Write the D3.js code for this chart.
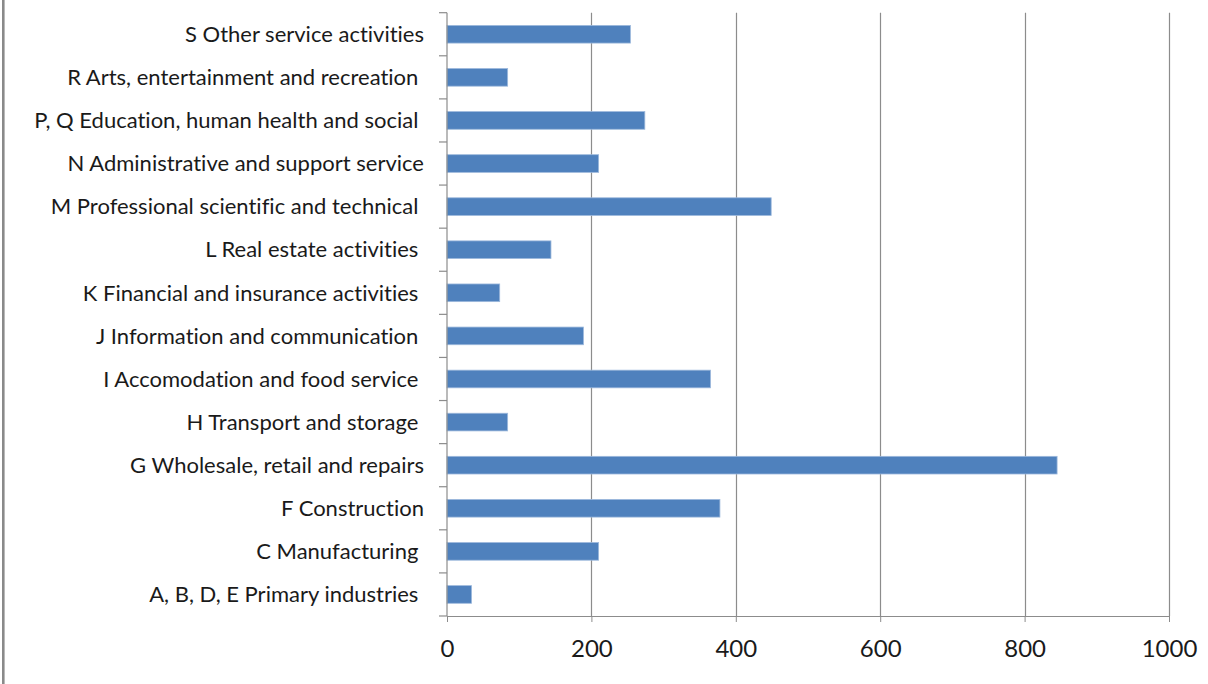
<!DOCTYPE html>
<html>
<head>
<meta charset="utf-8">
<script src="https://cdn.jsdelivr.net/npm/d3@7"></script>
<style>
  html, body { margin: 0; padding: 0; background: #fff; }
  svg { display: block; }
  text { font-family: Lato, "Open Sans", sans-serif; fill: #1a1a1a; font-variant-ligatures: none; }
</style>
</head>
<body>
<svg id="chart" width="1208" height="684"></svg>
<script>
// Categories (top to bottom as drawn)
const categories = [
  "S Other service activities",
  "R Arts, entertainment and recreation ",
  "P, Q Education, human health and social ",
  "N Administrative and support service",
  "M Professional scientific and technical ",
  "L Real estate activities ",
  "K Financial and insurance activities ",
  "J Information and communication ",
  "I Accomodation and food service ",
  "H Transport and storage ",
  "G Wholesale, retail and repairs",
  "F Construction",
  "C Manufacturing ",
  "A, B, D, E Primary industries "
];
const values = [254, 84, 274, 210, 449, 144, 73, 189, 365, 84, 845, 378, 210, 34];
const xTicks = [0, 200, 400, 600, 800, 1000];

const svg = d3.select("#chart");
const margin = { left: 447, right: 39, top: 12.7, bottom: 68 };
const W = 1208, H = 684;

// left frame line
svg.append("line")
  .attr("x1", 3.3).attr("x2", 3.3).attr("y1", 0).attr("y2", H)
  .attr("stroke", "#8a8a8a").attr("stroke-width", 2.6);

const x = d3.scaleLinear().domain([0, 1000]).range([margin.left, W - margin.right]);
const y = d3.scaleBand().domain(categories).range([margin.top, H - margin.bottom]).paddingInner(0.59).paddingOuter(0.295);
const yTickScale = d3.scaleLinear().domain([0, categories.length]).range([margin.top, H - margin.bottom]);

// gridlines
svg.append("g").selectAll("line").data(xTicks.slice(1)).join("line")
  .attr("x1", d => Math.round(x(d)) + 0.5).attr("x2", d => Math.round(x(d)) + 0.5)
  .attr("y1", margin.top).attr("y2", H - margin.bottom)
  .attr("stroke", "#8c8c8c").attr("stroke-width", 1.2);

// bars
svg.append("g").selectAll("rect").data(categories).join("rect")
  .attr("x", x(0))
  .attr("y", d => y(d))
  .attr("width", (d, i) => x(values[i]) - x(0))
  .attr("height", y.bandwidth())
  .attr("fill", "#4F81BD")
  .attr("stroke", "#9DB9DC").attr("stroke-width", 0.8);

// x axis
const xAxis = d3.axisBottom(x).tickValues(xTicks).tickFormat(d3.format("d"))
  .tickSize(6).tickPadding(18).tickSizeOuter(0);
const gx = svg.append("g").attr("transform", `translate(0,${H - margin.bottom})`).call(xAxis);
gx.select(".domain").attr("stroke", "#8c8c8c").attr("stroke-width", 1.2);
gx.selectAll(".tick line").attr("stroke", "#8c8c8c");
gx.selectAll(".tick text").attr("font-size", 24).attr("fill", "#1a1a1a").attr("font-family", "Lato, sans-serif");

// y axis line and ticks
svg.append("line")
  .attr("x1", x(0)).attr("x2", x(0)).attr("y1", margin.top).attr("y2", H - margin.bottom)
  .attr("stroke", "#8c8c8c").attr("stroke-width", 1.2);
svg.append("g").selectAll("line").data(d3.range(categories.length + 1)).join("line")
  .attr("x1", x(0) - 8).attr("x2", x(0))
  .attr("y1", d => yTickScale(d)).attr("y2", d => yTickScale(d))
  .attr("stroke", "#8c8c8c").attr("stroke-width", 1.2);

// category labels
svg.append("g").selectAll("text").data(categories).join("text")
  .attr("x", x(0) - 23)
  .attr("y", d => y(d) + y.bandwidth() / 2)
  .attr("dy", "0.35em")
  .attr("text-anchor", "end")
  .attr("font-size", 22)
  .style("white-space", "pre")
  .text(d => d);
</script>
</body>
</html>
